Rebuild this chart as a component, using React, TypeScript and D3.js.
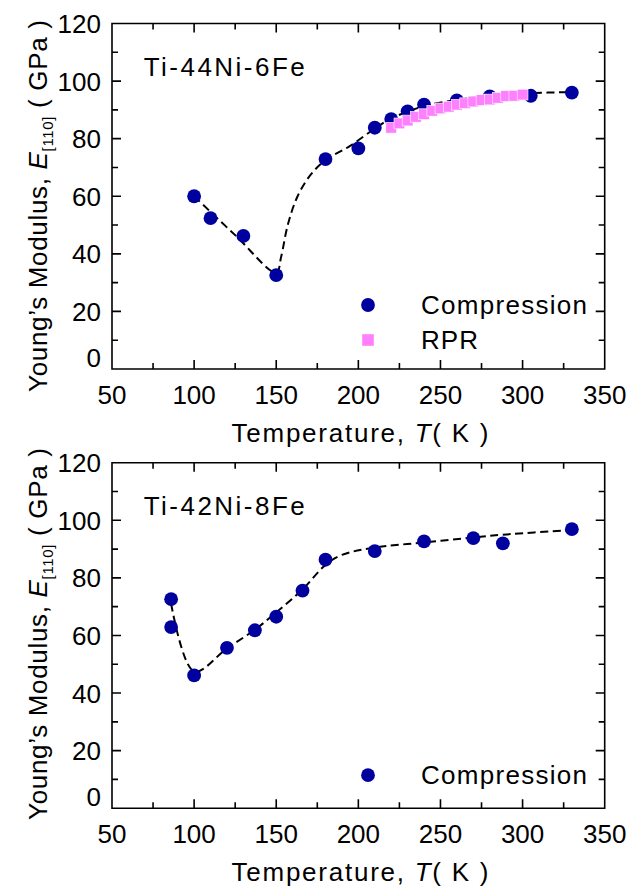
import React from 'react';
import * as d3 from 'd3';

// ---------- data ----------
const xTicks = [50, 100, 150, 200, 250, 300, 350];
const yTicks = [0, 20, 40, 60, 80, 100, 120];
const xMinor = [75, 125, 175, 225, 275, 325];
const yMinor = [10, 30, 50, 70, 90, 110];

const topTitle = 'Ti-44Ni-6Fe';
const topCompT = [100, 110, 130, 150, 180, 200, 210, 220, 230, 240, 260, 280, 305, 330];
const topCompE = [60, 52.4, 46.2, 32.6, 72.9, 76.6, 83.8, 86.8, 89.5, 91.8, 93.3, 94.7, 94.9, 96.0];
const topRprT = [220, 225, 230, 235, 240, 245, 250, 255, 260, 265, 270, 275, 280, 285, 290, 295, 300];
const topRprE = [83.8, 85.3, 86.3, 87.6, 88.5, 89.7, 90.5, 91.1, 91.8, 92.3, 92.9, 93.4, 93.6, 94.2, 94.8, 94.9, 95.3];
const topGuideT = [100, 125, 150, 153, 157, 163, 171, 180, 195, 210, 220, 240, 260, 280, 305, 330];
const topGuideE = [60, 46.5, 33.5, 39, 50, 60, 67.5, 72.5, 77.5, 83.5, 87, 91.3, 93.5, 95, 95.8, 96.2];

const botTitle = 'Ti-42Ni-8Fe';
const botCompT = [86, 86, 100, 120, 137, 150, 166, 180, 210, 240, 270, 288, 330];
const botCompE = [72.6, 62.9, 46.1, 55.7, 61.8, 66.5, 75.6, 86.3, 89.3, 92.7, 93.8, 92.0, 96.9];
const botGuideT = [86, 100, 120, 137, 150, 166, 180, 190, 210, 240, 270, 288, 330];
const botGuideE = [71, 47.5, 55.5, 62, 68, 76, 84.5, 88, 90.5, 92.3, 94, 95, 96.6];

const FONT = '"Liberation Sans", Arial, sans-serif';
const NAVY = '#00009E';
const PINK = '#FF80FF';

const L = 112, R = 604.7, H = 345.5;

type PanelProps = {
  top: number;
  title: string;
  compT: number[];
  compE: number[];
  rprT?: number[];
  rprE?: number[];
  guideT: number[];
  guideE: number[];
  legendOffset: number;
  yTitleCenter: number;
};

function Panel({ top, title, compT, compE, rprT, rprE, guideT, guideE, legendOffset, yTitleCenter }: PanelProps) {
  const bottom = top + H;
  const x = d3.scaleLinear().domain([50, 350]).range([L, R]);
  const y = d3.scaleLinear().domain([0, 120]).range([bottom, top]);
  const line = d3
    .line<number>()
    .x((d, i) => x(guideT[i]))
    .y((d, i) => y(guideE[i]))
    .curve(d3.curveCatmullRom.alpha(0.5));
  const guidePath = line(guideT) || '';
  const major = 9, minor = 6;
  const legY = bottom - legendOffset;

  const path = d3.path();
  path.rect(L, top, R - L, H);
  xTicks.forEach((t) => {
    path.moveTo(x(t), bottom); path.lineTo(x(t), bottom - major);
    path.moveTo(x(t), top); path.lineTo(x(t), top + major);
  });
  xMinor.forEach((t) => {
    path.moveTo(x(t), bottom); path.lineTo(x(t), bottom - minor);
    path.moveTo(x(t), top); path.lineTo(x(t), top + minor);
  });
  yTicks.forEach((v) => {
    path.moveTo(L, y(v)); path.lineTo(L + major, y(v));
    path.moveTo(R, y(v)); path.lineTo(R - major, y(v));
  });
  yMinor.forEach((v) => {
    path.moveTo(L, y(v)); path.lineTo(L + minor, y(v));
    path.moveTo(R, y(v)); path.lineTo(R - minor, y(v));
  });
  const framePath = path.toString();

  return (
    <g>
      <path d={guidePath} style={{ fill: 'none', stroke: '#000', strokeWidth: 2 }} strokeDasharray="8,4.5" />
      {compT.map((t, i) => (
        <circle key={'c' + i} cx={x(t)} cy={y(compE[i])} r={6.9} fill={NAVY} />
      ))}
      {rprT && rprE && rprT.map((t, i) => (
        <rect key={'r' + i} x={x(t) - 5.4} y={y(rprE[i]) - 5.4} width={10.8} height={10.8} fill={PINK} stroke="#fff" strokeWidth={0.6} />
      ))}
      <path d={framePath} style={{ fill: 'none', stroke: '#000', strokeWidth: 1.6 }} />
      {xTicks.map((t) => (
        <text key={'xl' + t} x={x(t)} y={bottom + 35} textAnchor="middle" fontSize={26} fontFamily={FONT}>{t}</text>
      ))}
      {yTicks.map((v) => (
        <text key={'yl' + v} x={101} y={y(v) + (v === 0 ? -12 : 0) + 9.5} textAnchor="end" fontSize={26} fontFamily={FONT}>{v}</text>
      ))}
      <text x={360} y={bottom + 73} textAnchor="middle" fontSize={26} fontFamily={FONT} textLength={257} lengthAdjust="spacing">
        Temperature, <tspan fontStyle="italic">T</tspan>( K )
      </text>
      <text transform={`translate(46.5, ${yTitleCenter}) rotate(-90)`} textAnchor="middle" fontSize={26} fontFamily={FONT} textLength={372} lengthAdjust="spacing">
        Young’s Modulus, <tspan fontStyle="italic">E</tspan><tspan fontSize={15} dy={6}>[110]</tspan><tspan dy={-6}> ( GPa )</tspan>
      </text>
      <text x={143.7} y={top + 52} fontSize={26} fontFamily={FONT} textLength={161} lengthAdjust="spacing">{title}</text>
      <circle cx={368} cy={legY} r={6.9} fill={NAVY} />
      <text x={421} y={legY + 9} fontSize={26} fontFamily={FONT} textLength={166} lengthAdjust="spacing">Compression</text>
      {rprT && (
        <g>
          <rect x={368 - 5.8} y={legY + 35 - 5.8} width={11.6} height={11.6} fill={PINK} />
          <text x={421} y={legY + 44} fontSize={26} fontFamily={FONT} textLength={57} lengthAdjust="spacing">RPR</text>
        </g>
      )}
    </g>
  );
}

export default function App() {
  return (
    <svg width={630} height={891} style={{ position: 'absolute', left: 0, top: 0, background: '#fff' }}>
      <rect x={0} y={0} width={630} height={891} fill="#fff" />
      <Panel top={23.5} title={topTitle} compT={topCompT} compE={topCompE} rprT={topRprT} rprE={topRprE}
        guideT={topGuideT} guideE={topGuideE} legendOffset={64} yTitleCenter={206} />
      <Panel top={462.7} title={botTitle} compT={botCompT} compE={botCompE}
        guideT={botGuideT} guideE={botGuideE} legendOffset={33} yTitleCenter={634} />
    </svg>
  );
}
